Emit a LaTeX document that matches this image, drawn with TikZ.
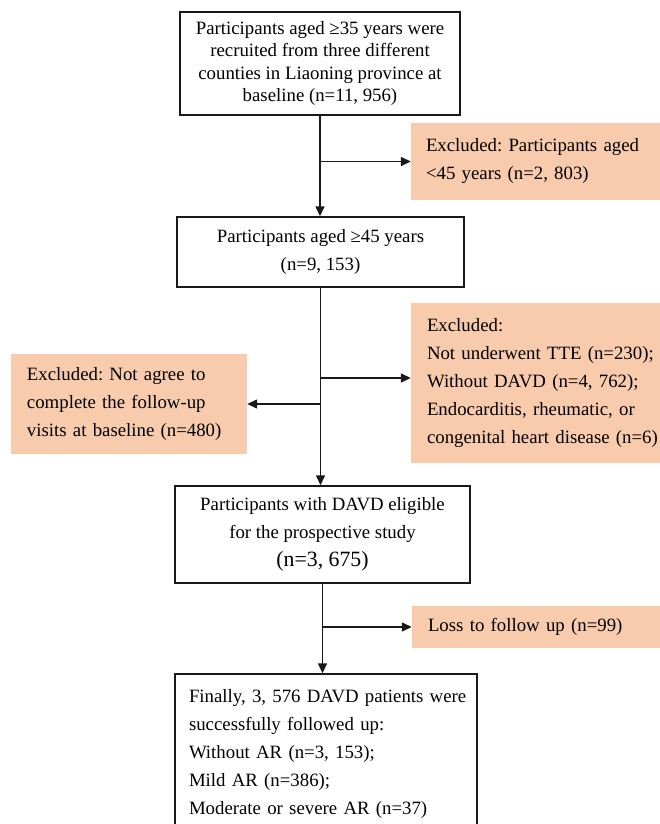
\documentclass[tikz,border=0pt]{standalone}
\usepackage{fontspec}
\setmainfont{Liberation Serif}
\usetikzlibrary{arrows.meta}
\definecolor{peach}{HTML}{F8CBAD}
\frenchspacing
\begin{document}
\begin{tikzpicture}[x=1pt,y=-1pt,
  txt/.style={font=\fontsize{18.8}{28}\selectfont},
  mainbox/.style={txt, draw=black!90, line width=1.4pt, inner sep=0pt, align=center},
  exbox/.style={txt, fill=peach, inner ysep=0pt, inner xsep=16pt, align=left},
  arr/.style={line width=1.4pt, draw=black!90, -{Triangle[length=10pt,width=9pt]}}
]
\useasboundingbox (0,0) rectangle (660,824);
\clip (0,0) rectangle (660,824);

\node[mainbox, minimum width=280pt, minimum height=103pt, font=\fontsize{18.8}{22.4}\selectfont] (b1) at (320,63.5)
  {Participants aged ≥35 years were\\ recruited from three different\\ counties in Liaoning province at\\ baseline (n=11, 956)};

\node[mainbox, minimum width=287pt, minimum height=70pt] (b2) at (320.5,252)
  {Participants aged ≥45 years\\ (n=9, 153)};

\node[mainbox, minimum width=295pt, minimum height=97pt] (b3) at (322.5,534.5)
  {Participants with DAVD eligible\\ for the prospective study\\ {\fontsize{21.8}{28}\selectfont (n=3, 675)}};

\node[mainbox, minimum width=302pt, minimum height=160pt, inner xsep=14pt, text width=274pt, align=left] (fb) at (326,754)
  {\mbox{Finally, 3, 576 DAVD patients were}\\ \mbox{successfully followed up:}\\ \mbox{Without AR (n=3, 153);}\\ \mbox{Mild AR (n=386);}\\ \mbox{Moderate or severe AR (n=37)}};

\node[exbox, minimum width=249pt, minimum height=77pt, text width=219pt, inner xsep=15pt] (ex1) at (535.5,161.5)
  {Excluded: Participants aged\\ <45 years (n=2, 803)};

\node[exbox, minimum width=249pt, minimum height=160pt, text width=217pt] (ex2) at (535.5,383)
  {\mbox{Excluded:}\\ \mbox{Not underwent TTE (n=230);}\\ \mbox{Without DAVD (n=4, 762);}\\ \mbox{Endocarditis, rheumatic, or}\\ \mbox{congenital heart disease (n=6)}};

\node[exbox, minimum width=236pt, minimum height=100pt, text width=204pt] (ex3) at (129,404)
  {Excluded: Not agree to\\ complete the follow-up\\ visits at baseline (n=480)};

\node[exbox, minimum width=248pt, minimum height=42pt, text width=216pt] (loss) at (536,627)
  {Loss to follow up (n=99)};

\coordinate (j2) at ([yshift=5pt]ex2.west);

\draw[arr] (b1.south) -- (b1.south |- b2.north);
\draw[arr] (b2.south) -- (b2.south |- b3.north);
\draw[arr] (b3.south) -- (b3.south |- fb.north);

\draw[arr] (b1.south |- ex1.west) -- (ex1.west);
\draw[arr] (b2.south |- j2) -- (j2);
\draw[arr] (b2.south |- ex3.east) -- (ex3.east);
\draw[arr] (b3.south |- loss.west) -- (loss.west);
\end{tikzpicture}
\end{document}
